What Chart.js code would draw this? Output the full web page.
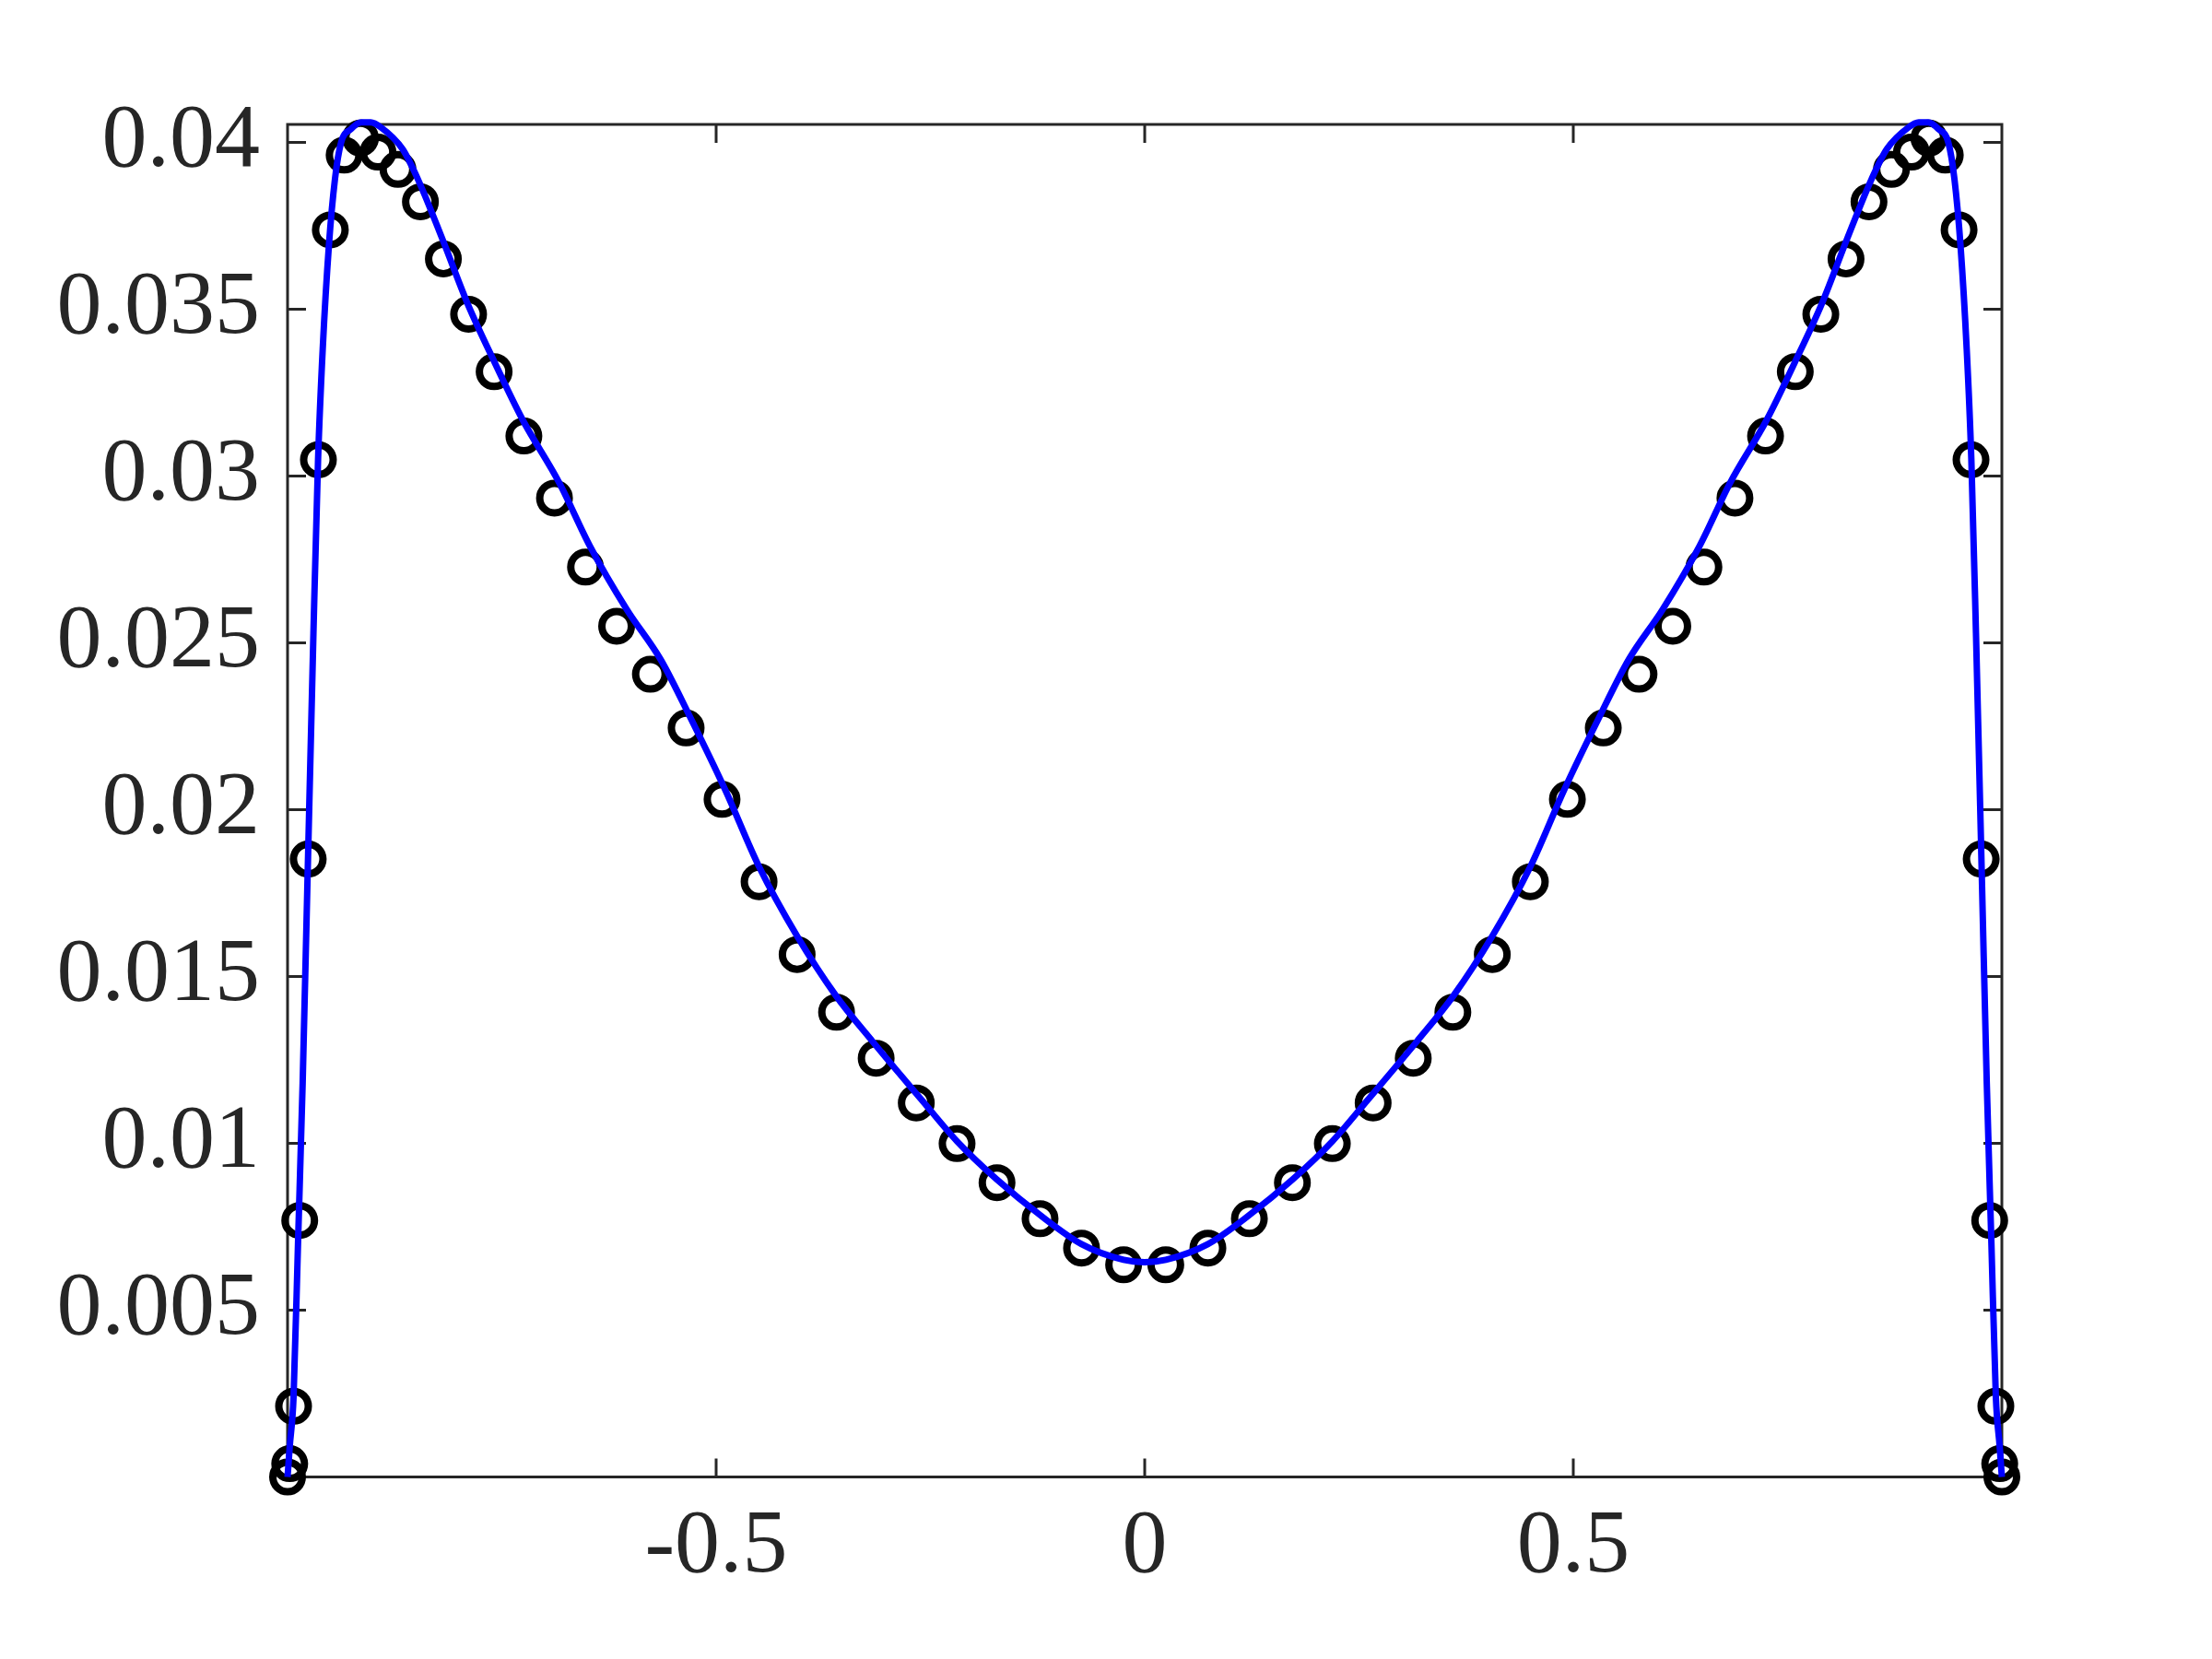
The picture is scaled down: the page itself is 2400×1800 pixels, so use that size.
<!DOCTYPE html>
<html><head><meta charset="utf-8">
<script src="https://cdn.jsdelivr.net/npm/chart.js@4/dist/chart.umd.min.js"></script>
<style>html,body{margin:0;padding:0;background:#fff}#wrap{width:2400px;height:1800px}</style>
</head><body><div id="wrap"><canvas id="c" width="2400" height="1800"></canvas></div>
<script>
// ---- data ----
const xTicks = [-0.5, 0, 0.5];
const xTickLabels = ['-0.5', '0', '0.5'];
const yTicks = [0.005, 0.01, 0.015, 0.02, 0.025, 0.03, 0.035, 0.04];
const yTickLabels = ['0.005', '0.01', '0.015', '0.02', '0.025', '0.03', '0.035', '0.04'];
const xRange = [-1, 1];
const yRange = [0, 0.04054];

const circleX = [-1.0, -0.9975, -0.9930, -0.9858, -0.9759, -0.9640, -0.9501, -0.9340, -0.9149, -0.8945,
  -0.8712, -0.8450, -0.8182, -0.7888, -0.7590, -0.7243, -0.6886, -0.6524, -0.6161, -0.5767,
  -0.5350, -0.4931, -0.4499, -0.4055, -0.3595, -0.3133, -0.2665, -0.2189, -0.1723, -0.1221,
  -0.0737, -0.0246,
  0.0246, 0.0737, 0.1221, 0.1723, 0.2189, 0.2665, 0.3133, 0.3595, 0.4055, 0.4499,
  0.4931, 0.5350, 0.5767, 0.6161, 0.6524, 0.6886, 0.7243, 0.7590, 0.7888, 0.8182,
  0.8450, 0.8712, 0.8945, 0.9149, 0.9340, 0.9501, 0.9640, 0.9759, 0.9858, 0.9930,
  0.9975, 1.0];
const circleY = [0, 0.0004, 0.00212, 0.00769, 0.01852, 0.03049, 0.03738, 0.03962, 0.04013, 0.03971,
  0.03919, 0.03822, 0.03651, 0.03485, 0.03313, 0.03120, 0.02934, 0.02727, 0.02550, 0.02406,
  0.02245, 0.02031, 0.01784, 0.01566, 0.01393, 0.01255, 0.01121, 0.00999, 0.00882, 0.00774,
  0.00686, 0.00636,
  0.00636, 0.00686, 0.00774, 0.00882, 0.00999, 0.01121, 0.01255, 0.01393, 0.01566, 0.01784,
  0.02031, 0.02245, 0.02406, 0.02550, 0.02727, 0.02934, 0.03120, 0.03313, 0.03485, 0.03651,
  0.03822, 0.03919, 0.03971, 0.04013, 0.03962, 0.03738, 0.03049, 0.01852, 0.00769, 0.00212,
  0.0004, 0];

const lineX = [-1.0, -0.9975, -0.9930, -0.9877, -0.9824, -0.9770, -0.9698, -0.9644, -0.9590, -0.9518,
  -0.9447, -0.9375, -0.9260, -0.9142, -0.9030, -0.8910, -0.8658, -0.8480, -0.8193, -0.7905,
  -0.7583, -0.7260, -0.6830, -0.6472, -0.6042, -0.5647, -0.5289, -0.4895, -0.4501, -0.4053,
  -0.3604, -0.3174, -0.2601, -0.2189, -0.1723, -0.1221, -0.0737, -0.0246, 0,
  0.0246, 0.0737, 0.1221, 0.1723, 0.2189, 0.2601, 0.3174, 0.3604, 0.4053, 0.4501,
  0.4895, 0.5289, 0.5647, 0.6042, 0.6472, 0.6830, 0.7260, 0.7583, 0.7905, 0.8193,
  0.8480, 0.8658, 0.8910, 0.9030, 0.9142, 0.9260, 0.9375, 0.9447, 0.9518, 0.9590,
  0.9644, 0.9698, 0.9770, 0.9824, 0.9877, 0.9930, 0.9975, 1.0];
const lineY = [0, 0.0009, 0.0024, 0.0071, 0.0118, 0.0176, 0.0253, 0.0305, 0.0338, 0.0369,
  0.0389, 0.0400, 0.0404, 0.0406, 0.0406, 0.04045, 0.0398, 0.0389, 0.0371, 0.0352,
  0.0334, 0.0317, 0.0298, 0.0279, 0.0260, 0.0245, 0.0227, 0.0206, 0.0183, 0.0162,
  0.01443, 0.01305, 0.0113, 0.01006, 0.00891, 0.00785, 0.00698, 0.00651, 0.00644,
  0.00651, 0.00698, 0.00785, 0.00891, 0.01006, 0.0113, 0.01305, 0.01443, 0.0162, 0.0183,
  0.0206, 0.0227, 0.0245, 0.0260, 0.0279, 0.0298, 0.0317, 0.0334, 0.0352, 0.0371,
  0.0389, 0.0398, 0.04045, 0.0406, 0.0406, 0.0404, 0.0400, 0.0389, 0.0369, 0.0338,
  0.0305, 0.0253, 0.0176, 0.0118, 0.0071, 0.0024, 0.0009, 0];

// ---- chart ----
const AXIS_COLOR = '#262626';
const FONT = {family: "'Liberation Serif', 'DejaVu Serif', serif", size: 98};

const framePlugin = {
  id: 'frame',
  beforeDatasetsDraw(chart) {
    const {ctx, chartArea: a, scales} = chart;
    const x = scales.x, y = scales.y;
    const TL = 20;
    ctx.save();
    ctx.strokeStyle = AXIS_COLOR;
    ctx.lineWidth = 3;
    ctx.lineCap = 'butt';
    ctx.beginPath();
    xTicks.forEach(v => {
      const px = x.getPixelForValue(v);
      ctx.moveTo(px, a.bottom); ctx.lineTo(px, a.bottom - TL);
      ctx.moveTo(px, a.top); ctx.lineTo(px, a.top + TL);
    });
    yTicks.forEach(v => {
      const py = y.getPixelForValue(v);
      ctx.moveTo(a.left, py); ctx.lineTo(a.left + TL, py);
      ctx.moveTo(a.right, py); ctx.lineTo(a.right - TL, py);
    });
    ctx.stroke();
    ctx.strokeRect(a.left, a.top, a.right - a.left, a.bottom - a.top);
    ctx.restore();
  }
};

new Chart(document.getElementById('c'), {
  type: 'scatter',
  data: {
    datasets: [
      {
        data: lineX.map((v, i) => ({x: v, y: lineY[i]})),
        showLine: true,
        borderColor: '#0000ff',
        borderWidth: 7,
        pointRadius: 0,
        cubicInterpolationMode: 'monotone',
        clip: false
      },
      {
        data: circleX.map((v, i) => ({x: v, y: circleY[i]})),
        showLine: false,
        pointStyle: 'circle',
        pointRadius: 16,
        pointBorderWidth: 8,
        pointBorderColor: '#000000',
        pointBackgroundColor: 'rgba(0,0,0,0)',
        clip: false
      }
    ]
  },
  options: {
    responsive: false,
    devicePixelRatio: 1,
    animation: false,
    events: [],
    layout: {padding: {left: 0, top: 135, right: 228, bottom: 0}},
    plugins: {legend: {display: false}, tooltip: {enabled: false}},
    scales: {
      x: {
        type: 'linear', min: xRange[0], max: xRange[1],
        afterBuildTicks: s => { s.ticks = xTicks.map(v => ({value: v})); },
        afterFit: s => { s.height = 197.5; },
        grid: {display: false, drawTicks: false},
        border: {display: false},
        ticks: {
          font: FONT, color: AXIS_COLOR, padding: 18, maxRotation: 0, autoSkip: false,
          callback: (v, i) => xTickLabels[i]
        }
      },
      y: {
        type: 'linear', min: yRange[0], max: yRange[1],
        afterBuildTicks: s => { s.ticks = yTicks.map(v => ({value: v})); },
        afterFit: s => { s.width = 312; },
        grid: {display: false, drawTicks: false},
        border: {display: false},
        ticks: {
          font: FONT, color: AXIS_COLOR, padding: 30, autoSkip: false,
          callback: (v, i) => yTickLabels[i]
        }
      }
    }
  },
  plugins: [framePlugin]
});
</script></body></html>
